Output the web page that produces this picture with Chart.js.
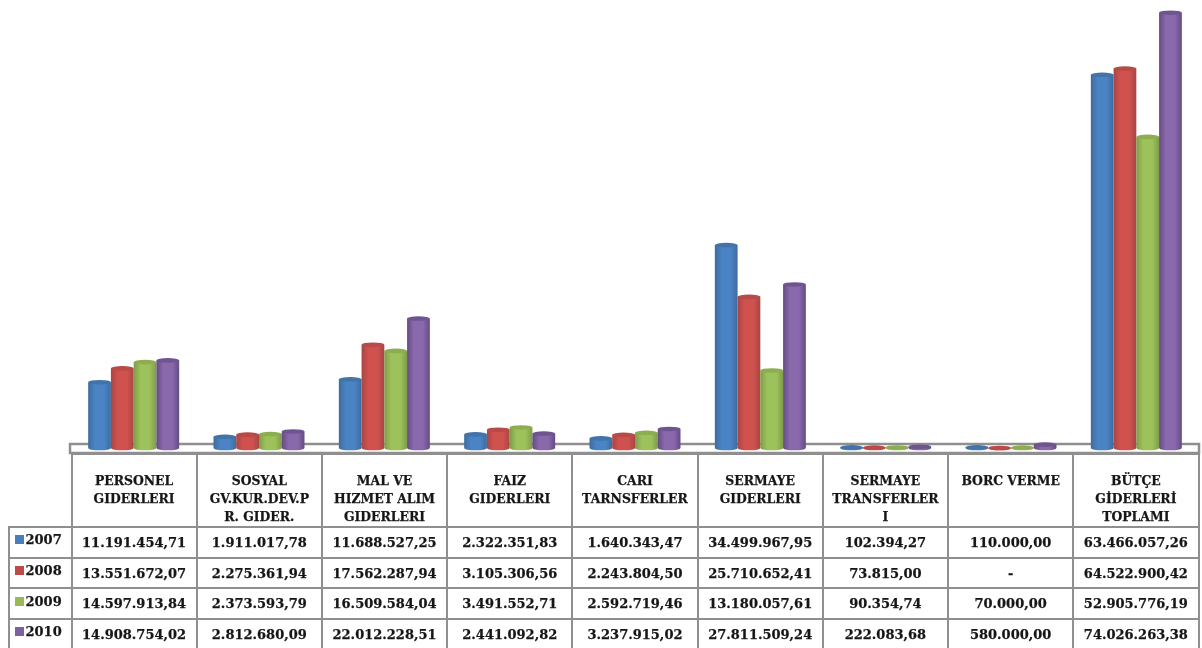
<!DOCTYPE html>
<html lang="tr">
<head>
<meta charset="utf-8">
<title>Bütçe Giderleri</title>
<script src="https://cdn.jsdelivr.net/npm/chart.js@4/dist/chart.umd.min.js"></script>
<style>
    html, body { margin: 0; padding: 0; background: #fff; overflow: hidden; }
    #wrap { position: relative; width: 1202px; height: 648px; overflow: hidden; }
    #budgetChart { position: absolute; left: 0; top: 0; }
    #dataTable {
        position: absolute; left: 7.5px; top: 453px;
        border-collapse: collapse; table-layout: fixed; width: 1192px;
        font: bold 13px 'DejaVu Serif', serif; color: #161616;
        -webkit-text-stroke: 0.25px #161616;
    }
    #dataTable td, #dataTable th { border: 2px solid #8f8f8f; padding: 0; text-align: center; overflow: hidden; }
    #dataTable th {
        height: 71px; vertical-align: top; padding-top: 17px; box-sizing: border-box;
        font-size: 12.4px; font-weight: bold; line-height: 18px; white-space: pre-line;
    }
    #dataTable th.corner { border-top: none; border-left: none; }
    #dataTable td { height: 28.7px; }
    #dataTable td.year { text-align: left; padding-left: 5px; padding-bottom: 5px; box-sizing: border-box; white-space: nowrap; }
    .key { display: inline-block; width: 9px; height: 9px; margin-right: 2px; }
</style>
</head>
<body>
<div id="wrap">
    <canvas id="budgetChart" width="1202" height="648"></canvas>
    <table id="dataTable"></table>
</div>
<script>
const categories = [
    'PERSONEL\nGIDERLERI',
    'SOSYAL\nGV.KUR.DEV.P\nR. GIDER.',
    'MAL VE\nHIZMET ALIM\nGIDERLERI',
    'FAIZ\nGIDERLERI',
    'CARI\nTARNSFERLER',
    'SERMAYE\nGIDERLERI',
    'SERMAYE\nTRANSFERLER\nI',
    'BORC VERME',
    'BÜTÇE\nGİDERLERİ\nTOPLAMI'
];
const years = ['2007', '2008', '2009', '2010'];

const values2007 = [11191454.71, 1911017.78, 11688527.25, 2322351.83, 1640343.47, 34499967.95, 102394.27, 110000.00, 63466057.26];
const values2008 = [13551672.07, 2275361.94, 17562287.94, 3105306.56, 2243804.50, 25710652.41, 73815.00, 0, 64522900.42];
const values2009 = [14597913.84, 2373593.79, 16509584.04, 3491552.71, 2592719.46, 13180057.61, 90354.74, 70000.00, 52905776.19];
const values2010 = [14908754.02, 2812680.09, 22012228.51, 2441092.82, 3237915.02, 27811509.24, 222083.68, 580000.00, 74026263.38];
const series = [values2007, values2008, values2009, values2010];

// edge, middle, top cap colours per year
const barEdge = ['#3d6c9f', '#a84644', '#7f9c48', '#644c84'];
const barMid = ['#4a84c4', '#d0524f', '#9dc25c', '#8a68ac'];
const barCap = ['#4274aa', '#b84a48', '#8dae50', '#6f5590'];
const keyColors = ['#4a7ebb', '#be4b48', '#98b954', '#7d60a0'];

// 1.234.567,89 style, zero shown as a dash
function formatValue(v) {
    if (!v) return '-';
    const parts = v.toFixed(2).split('.');
    return parts[0].replace(/\B(?=(\d{3})+$)/g, '.') + ',' + parts[1];
}

function buildTable() {
    let html = '<colgroup><col style="width:63px">' + categories.map(() => '<col>').join('') + '</colgroup>';
    html += '<tr><th class="corner"></th>' + categories.map(c => `<th>${c}</th>`).join('') + '</tr>';
    years.forEach((year, i) => {
        html += `<tr><td class="year"><span class="key" style="background:${keyColors[i]}"></span>${year}</td>`;
        html += series[i].map(v => `<td>${formatValue(v)}</td>`).join('') + '</tr>';
    });
    document.getElementById('dataTable').innerHTML = html;
}

// gray floor the cylinders stand on
const floorPlugin = {
    id: 'floor',
    beforeDatasetsDraw(chart) {
        const { ctx, chartArea } = chart;
        ctx.save();
        ctx.strokeStyle = '#8f8f8f';
        ctx.lineWidth = 2.5;
        ctx.strokeRect(chartArea.left - 1, chartArea.bottom - 4, chartArea.width + 1, 9);
        ctx.restore();
    }
};

// turns the flat bars into cylinders
const cylinderPlugin = {
    id: 'cylinder',
    afterDatasetsDraw(chart) {
        const ctx = chart.ctx;
        chart.data.datasets.forEach((ds, i) => {
            chart.getDatasetMeta(i).data.forEach(bar => {
                const left = bar.x - bar.width / 2;
                const right = bar.x + bar.width / 2;
                const rx = bar.width / 2;
                const ry = 2.3;
                const grad = ctx.createLinearGradient(left, 0, right, 0);
                grad.addColorStop(0, barEdge[i]);
                grad.addColorStop(0.3, barMid[i]);
                grad.addColorStop(0.7, barMid[i]);
                grad.addColorStop(1, barEdge[i]);
                ctx.save();
                ctx.fillStyle = grad;
                ctx.beginPath();
                ctx.moveTo(left, bar.y);
                ctx.lineTo(left, bar.base);
                ctx.ellipse(bar.x, bar.base, rx, ry, 0, Math.PI, 0, true);
                ctx.lineTo(right, bar.y);
                ctx.closePath();
                ctx.fill();
                ctx.fillStyle = barCap[i];
                ctx.beginPath();
                ctx.ellipse(bar.x, bar.y, rx, ry, 0, 0, Math.PI * 2);
                ctx.fill();
                ctx.restore();
            });
        });
    }
};

function initChart() {
    const ctx = document.getElementById('budgetChart').getContext('2d');
    new Chart(ctx, {
        type: 'bar',
        data: {
            labels: categories.map(c => c.replace(/\n/g, ' ')),
            datasets: years.map((year, i) => ({
                label: year,
                data: series[i],
                backgroundColor: 'rgba(0, 0, 0, 0)',
                categoryPercentage: 0.726,
                barPercentage: 1
            }))
        },
        options: {
            responsive: false,
            animation: false,
            layout: { padding: { left: 71, right: 3, top: 7, bottom: 200 } },
            plugins: { legend: { display: false }, tooltip: { enabled: false } },
            scales: {
                x: { display: false },
                y: { display: false, min: 0, max: 75000000 }
            }
        },
        plugins: [floorPlugin, cylinderPlugin]
    });
}

buildTable();
initChart();
</script>
</body>
</html>
